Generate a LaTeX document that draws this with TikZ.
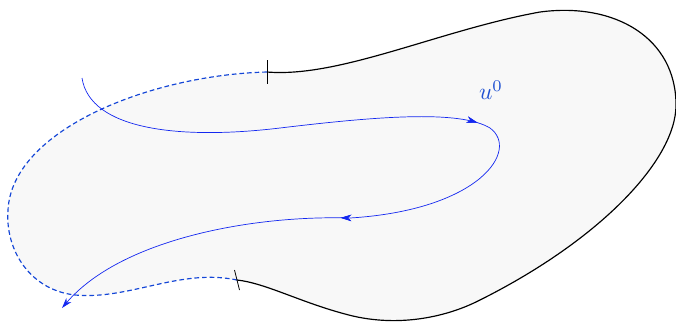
\documentclass[tikz,border=0pt]{standalone}
\usetikzlibrary{arrows.meta,decorations.markings,calc}

\definecolor{flowblue}{RGB}{20,40,240}
\definecolor{edgeblue}{RGB}{20,70,215}
\definecolor{labelblue}{RGB}{30,80,210}
\definecolor{regionfill}{RGB}{248,248,248}

\tikzset{
  outline/.style={black, line width=1pt},
  openedge/.style={edgeblue, line width=1pt, dash pattern=on 4pt off 2.5pt},
  flow/.style={flowblue, line width=0.6pt},
  flowtip/.style={decoration={markings,
      mark=at position #1 with {\arrow{Stealth[length=9pt,width=5.5pt]}}},
    postaction={decorate}},
  tick/.style={black, line width=0.7pt}
}

\begin{document}
\begin{tikzpicture}[x=0.03cm, y=-0.03cm]
  \useasboundingbox (0,0) rectangle (676,322);

  % Points where the boundary changes from solid to dashed
  \coordinate (top) at (267,72);
  \coordinate (bot) at (237,280);

  % Filled region
  \fill[regionfill] (top) .. controls (340,78) and (440,30) .. (540,12)
    .. controls (615,2) and (676,38) .. (676,105)
    .. controls (676,160) and (600,240) .. (480,300)
    .. controls (445,318) and (395,328) .. (345,314)
    .. controls (300,302) and (265,283) .. (bot)
    .. controls (180,268) and (130,300) .. (75,295)
    .. controls (30,290) and (5,250) .. (8,210)
    .. controls (12,130) and (150,75) .. (top) -- cycle;

  % Solid boundary
  \draw[outline] (top) .. controls (340,78) and (440,30) .. (540,12)
    .. controls (615,2) and (676,38) .. (676,105)
    .. controls (676,160) and (600,240) .. (480,300)
    .. controls (445,318) and (395,328) .. (345,314)
    .. controls (300,302) and (265,283) .. (bot);

  % Dashed boundary
  \draw[openedge] (bot) .. controls (180,268) and (130,300) .. (75,295)
    .. controls (30,290) and (5,250) .. (8,210)
    .. controls (12,130) and (150,75) .. (top);

  % Tick marks
  \draw[tick] ([yshift=-10pt]top) -- ([yshift=10pt]top);
  \draw[tick] ($(bot)+(-2.5,-10)$) -- ($(bot)+(2.5,10)$);

  % Flow line
  \coordinate (start) at (82,78);
  \coordinate (tip) at (62,308);
  \draw[flow, flowtip=0.445, flowtip=0.68, -{Stealth[length=9pt,width=5.5pt]}]
    (start) .. controls (90,130) and (180,140) .. (280,128)
    .. controls (380,116) and (460,110) .. (490,128)
    .. controls (520,150) and (480,210) .. (350,218)
    .. controls (250,215) and (120,240) .. (tip);

  \node[labelblue, scale=2] (u0) at (491,90) {$u^0$};
\end{tikzpicture}
\end{document}
